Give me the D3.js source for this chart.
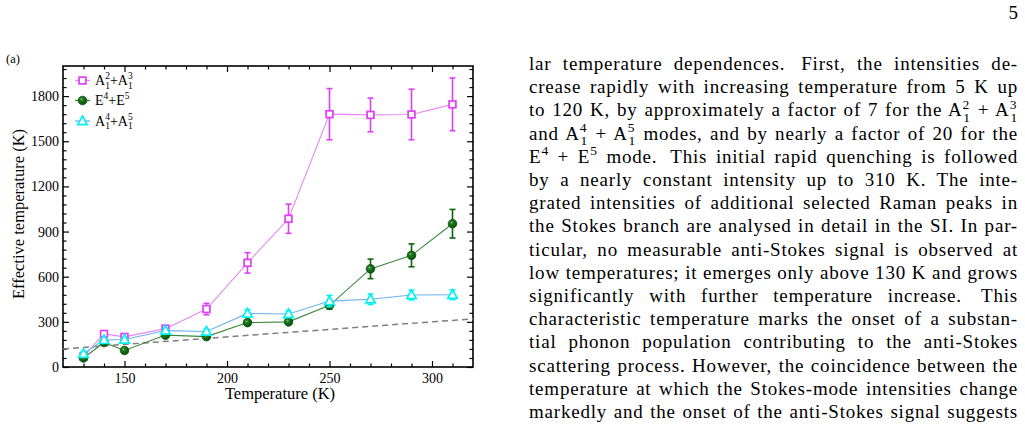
<!DOCTYPE html>
<html><head><meta charset="utf-8">
<script src="https://cdn.jsdelivr.net/npm/d3@7"></script>
<style>
html,body{margin:0;padding:0;background:#fff;}
svg{display:block;font-family:"Liberation Serif","Times New Roman",serif;}
</style></head><body>
<svg id="page" width="1025" height="430"></svg>
<script>
// ---------------- chart data ----------------
const temps = [130, 140, 150, 170, 190, 210, 230, 250, 270, 290, 310];
const seriesA23 = [70, 220, 200, 255, 385, 692, 985, 1680, 1675, 1678, 1745];
const errA23    = [10, 10, 10, 12, 38, 68, 97, 170, 112, 168, 175];
const seriesE45 = [60, 163, 110, 212, 202, 295, 300, 410, 652, 742, 952];
const errE45    = [8, 8, 8, 10, 10, 15, 15, 25, 65, 76, 95];
const seriesA45 = [88, 180, 183, 242, 236, 356, 352, 438, 450, 478, 480];
const errA45    = [15, 12, 12, 15, 15, 25, 22, 38, 35, 32, 32];
const refLineT  = [120, 320];
const refLineY  = [120, 320];
const xDomain = [120, 320];
const yDomain = [0, 2000];
const xTicksMajor = [150, 200, 250, 300];
const yTicksMajor = [0, 300, 600, 900, 1200, 1500, 1800];
const legendNames = [
  [{t:"A"},{sb:"1",sp:"2"},{t:"+A"},{sb:"1",sp:"3"}],
  [{t:"E"},{sp:"4"},{t:"+E"},{sp:"5"}],
  [{t:"A"},{sb:"1",sp:"4"},{t:"+A"},{sb:"1",sp:"5"}]
];
const xTitle = "Temperature (K)";
const yTitle = "Effective temperature (K)";

// ---------------- page text ----------------
const paraLines = [
  [{t:"lar temperature dependences.\u2009 First, the intensities de-"}],
  [{t:"crease rapidly with increasing temperature from 5 K up"}],
  [{t:"to 120 K, by approximately a factor of 7 for the A"},{sb:"1",sp:"2"},{t:" + A"},{sb:"1",sp:"3"}],
  [{t:"and A"},{sb:"1",sp:"4"},{t:" + A"},{sb:"1",sp:"5"},{t:" modes, and by nearly a factor of 20 for the"}],
  [{t:"E"},{sp:"4"},{t:" + E"},{sp:"5"},{t:" mode.\u2009 This initial rapid quenching is followed"}],
  [{t:"by a nearly constant intensity up to 310 K. The inte-"}],
  [{t:"grated intensities of additional selected Raman peaks in"}],
  [{t:"the Stokes branch are analysed in detail in the SI. In par-"}],
  [{t:"ticular, no measurable anti-Stokes signal is observed at"}],
  [{t:"low temperatures; it emerges only above 130 K and grows"}],
  [{t:"significantly with further temperature increase.\u2009 This"}],
  [{t:"characteristic temperature marks the onset of a substan-"}],
  [{t:"tial phonon population contributing to the anti-Stokes"}],
  [{t:"scattering process. However, the coincidence between the"}],
  [{t:"temperature at which the Stokes-mode intensities change"}],
  [{t:"markedly and the onset of the anti-Stokes signal suggests"}]
];

const SERIF = "'Liberation Serif', 'Times New Roman', serif";
const svg = d3.select("#page");
svg.append("rect").attr("width",1025).attr("height",430).attr("fill","#fff");

// rich text helper (stacked sub/sup)
function richText(sel, pieces, fs, sfs){
  const up = fs*0.4, down = fs*0.27;
  let cur = 0;
  pieces.forEach(p=>{
    if(p.t!==undefined){
      sel.append("tspan").attr("dy", -cur).attr("font-size",fs).attr("font-family",SERIF).text(p.t);
      cur = 0;
    } else {
      if(p.sp!==undefined){
        sel.append("tspan").attr("dy", -up - cur).attr("font-size",sfs).attr("font-family",SERIF).text(p.sp);
        cur = -up;
      }
      if(p.sb!==undefined){
        const t = sel.append("tspan").attr("dy", down - cur).attr("font-size",sfs).attr("font-family",SERIF).text(p.sb);
        if(p.sp!==undefined) t.attr("dx", -sfs*0.5);
        cur = down;
      }
    }
  });
}

// ---------------- chart ----------------
const M = {l:63, t:66, r:473, b:367};
const x = d3.scaleLinear().domain(xDomain).range([M.l, M.r]);
const y = d3.scaleLinear().domain(yDomain).range([M.b, M.t]);

const xMinor = d3.range(xDomain[0]+10, xDomain[1], 10).filter(v=>!xTicksMajor.includes(v));
const yMinor = d3.range(60, yDomain[1], 60).filter(v=>v%300!==0);
const fmt = d3.format("d");

function styleAxis(g){
  g.select(".domain").remove();
  g.selectAll(".tick line").attr("stroke","#000").attr("stroke-width",1.2);
  g.selectAll("text").attr("font-family",SERIF).attr("font-size",14).attr("fill","#000");
}
svg.append("g").attr("transform",`translate(0,${M.b})`)
  .call(d3.axisBottom(x).tickValues(xTicksMajor).tickFormat(fmt).tickSizeInner(-6).tickSizeOuter(0).tickPadding(6.5)).call(styleAxis);
svg.append("g").attr("transform",`translate(0,${M.b})`)
  .call(d3.axisBottom(x).tickValues(xMinor).tickSizeInner(-3.5).tickSizeOuter(0).tickFormat("")).call(styleAxis);
svg.append("g").attr("transform",`translate(0,${M.t})`)
  .call(d3.axisTop(x).tickValues(xTicksMajor).tickSizeInner(-6).tickSizeOuter(0).tickFormat("")).call(styleAxis);
svg.append("g").attr("transform",`translate(0,${M.t})`)
  .call(d3.axisTop(x).tickValues(xMinor).tickSizeInner(-3.5).tickSizeOuter(0).tickFormat("")).call(styleAxis);
svg.append("g").attr("transform",`translate(${M.l},0)`)
  .call(d3.axisLeft(y).tickValues(yTicksMajor).tickFormat(fmt).tickSizeInner(-6).tickSizeOuter(0).tickPadding(4)).call(styleAxis);
svg.append("g").attr("transform",`translate(${M.l},0)`)
  .call(d3.axisLeft(y).tickValues(yMinor).tickSizeInner(-3.5).tickSizeOuter(0).tickFormat("")).call(styleAxis);
svg.append("g").attr("transform",`translate(${M.r},0)`)
  .call(d3.axisRight(y).tickValues(yTicksMajor).tickSizeInner(-6).tickSizeOuter(0).tickFormat("")).call(styleAxis);
svg.append("g").attr("transform",`translate(${M.r},0)`)
  .call(d3.axisRight(y).tickValues(yMinor).tickSizeInner(-3.5).tickSizeOuter(0).tickFormat("")).call(styleAxis);

svg.append("rect").attr("x",M.l).attr("y",M.t).attr("width",M.r-M.l).attr("height",M.b-M.t)
  .attr("fill","none").attr("stroke","#000").attr("stroke-width",1.6);

// titles
svg.append("text").attr("x",280).attr("y",399).attr("text-anchor","middle")
  .attr("font-family",SERIF).attr("font-size",16.5).text(xTitle);
svg.append("text").attr("transform","translate(24,214) rotate(-90)").attr("text-anchor","middle")
  .attr("font-family",SERIF).attr("font-size",16.5).text(yTitle);

// gradient for green balls
const defs = svg.append("defs");
const grad = defs.append("radialGradient").attr("id","ball").attr("cx","40%").attr("cy","40%").attr("r","60%")
  .attr("fx","38%").attr("fy","35%");
grad.append("stop").attr("offset","0%").attr("stop-color","#8fc08f");
grad.append("stop").attr("offset","30%").attr("stop-color","#1f7a1f");
grad.append("stop").attr("offset","100%").attr("stop-color","#045304");
defs.append("clipPath").attr("id","plotclip").append("rect")
  .attr("x",M.l).attr("y",M.t).attr("width",M.r-M.l).attr("height",M.b-M.t);

// reference dashed line
const plot = svg.append("g").attr("clip-path","url(#plotclip)");
plot.append("path").datum(refLineT.map((t,i)=>[t, refLineY[i]]))
  .attr("d", d3.line().x(d=>x(d[0])).y(d=>y(d[1])))
  .attr("fill","none").attr("stroke","#7f7f7f").attr("stroke-width",1.5).attr("stroke-dasharray","6,4");

const series = [
  {vals:seriesA23, err:errA23, color:"#df3ff6", line:"#ea86f3", shape:"square"},
  {vals:seriesE45, err:errE45, color:"#0b650b", line:"#3a8a3a", shape:"circle"},
  {vals:seriesA45, err:errA45, color:"#00f2f2", line:"#6eb2ee", shape:"triangle"}
];

function drawMarker(g, shape, color, cx, cy){
  if(shape==="square"){
    g.append("rect").attr("x",cx-3.4).attr("y",cy-3.4).attr("width",6.8).attr("height",6.8)
      .attr("fill","#fff").attr("stroke",color).attr("stroke-width",1.7);
  } else if(shape==="circle"){
    g.append("circle").attr("cx",cx).attr("cy",cy).attr("r",4.3)
      .attr("fill","url(#ball)").attr("stroke","#0a4f0a").attr("stroke-width",0.8);
  } else {
    const r = 5;
    g.append("path").attr("d",`M${cx},${cy-r}L${cx+r*0.95},${cy+r*0.72}L${cx-r*0.95},${cy+r*0.72}Z`)
      .attr("fill","#fff").attr("stroke",color).attr("stroke-width",1.7).attr("stroke-linejoin","miter");
  }
}

series.forEach(s=>{
  const g = svg.append("g");
  const pts = temps.map((t,i)=>[t, s.vals[i], s.err[i]]);
  g.append("path").datum(pts).attr("d", d3.line().x(d=>x(d[0])).y(d=>y(d[1])))
    .attr("fill","none").attr("stroke",s.line).attr("stroke-width",1.1);
  pts.forEach(d=>{
    const cx = x(d[0]), y0 = y(d[1]-d[2]), y1 = y(d[1]+d[2]);
    g.append("line").attr("x1",cx).attr("x2",cx).attr("y1",y0).attr("y2",y1)
      .attr("stroke",s.color).attr("stroke-width",1.6);
    [y0,y1].forEach(yy=>g.append("line").attr("x1",cx-3).attr("x2",cx+3).attr("y1",yy).attr("y2",yy)
      .attr("stroke",s.color).attr("stroke-width",1.6));
  });
  pts.forEach(d=>drawMarker(g, s.shape, s.color, x(d[0]), y(d[1])));
});

// legend
const legY = [80.5, 100.5, 121];
series.forEach((s,i)=>{
  const g = svg.append("g");
  g.append("line").attr("x1",75).attr("x2",90).attr("y1",legY[i]).attr("y2",legY[i])
    .attr("stroke",s.line).attr("stroke-width",1.3);
  drawMarker(g, s.shape, s.color, 82.5, legY[i]);
  const t = g.append("text").attr("x",95).attr("y",legY[i]+4.5).attr("font-family",SERIF).attr("font-size",14);
  richText(t, legendNames[i], 14, 9.5);
});

// panel label and page number
svg.append("text").attr("x",6).attr("y",63).attr("font-family",SERIF).attr("font-size",12.5).text("(a)");
svg.append("text").attr("x",1018).attr("y",19).attr("text-anchor","end").attr("font-family",SERIF).attr("font-size",19).text("5");

// paragraph (justified line by line through word spacing)
const PX0 = 529, PW = 489, base0 = 70, lead = 23.2;
paraLines.forEach((pieces,i)=>{
  const t = svg.append("text").attr("x",PX0).attr("y",base0 + i*lead)
    .attr("font-family",SERIF).attr("font-size",19).attr("letter-spacing",0.8).attr("fill","#000");
  richText(t, pieces, 19, 13.5);
  const n = (t.node().textContent.match(/ /g)||[]).length;
  let ws = 0;
  for(let k=0;k<3;k++){
    const w = t.node().getBBox().width;
    ws += (PW - w)/n;
    t.attr("word-spacing", ws);
  }
});
</script>
</body></html>
